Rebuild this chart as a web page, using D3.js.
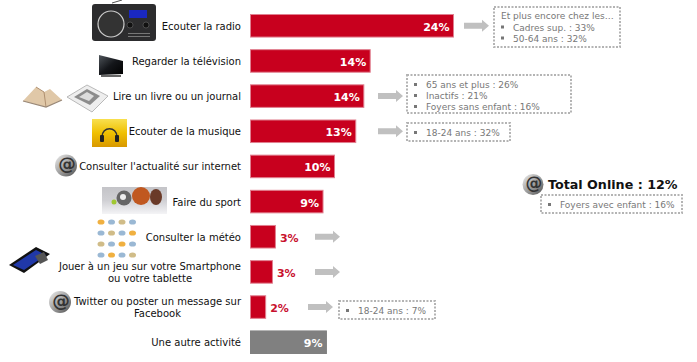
<!DOCTYPE html>
<html>
<head>
<meta charset="utf-8">
<script src="https://cdn.jsdelivr.net/npm/d3@7/dist/d3.min.js"></script>
<style>
html, body { margin: 0; padding: 0; background: #fff; }
text { font-family: "DejaVu Sans", sans-serif; }
</style>
</head>
<body>
<div id="chart"></div>
<script>
var categories = ["Ecouter la radio", "Regarder la télévision", "Lire un livre ou un journal", "Ecouter de la musique",
    "Consulter l'actualité sur internet", "Faire du sport", "Consulter la météo",
    "Jouer à un jeu sur votre Smartphone|ou votre tablette", "Twitter ou poster un message sur|Facebook", "Une autre activité"];
var barLengths = [24, 14.2, 13.45, 12.5, 10, 8.65, 3.05, 2.7, 1.9, 9.05];
var valueLabels = ["24%", "14%", "14%", "13%", "10%", "9%", "3%", "3%", "2%", "9%"];
var barColors = ["#c8001e", "#c8001e", "#c8001e", "#c8001e", "#c8001e", "#c8001e", "#c8001e", "#c8001e", "#c8001e", "#808080"];
var arrowRows = [0, 2, 3, 6, 7, 8];
var callouts = [
    {row: 0, head: "Et plus encore chez les…", items: ["Cadres sup. : 33%", "50-64 ans : 32%"]},
    {row: 2, items: ["65 ans et plus : 26%", "Inactifs : 21%", "Foyers sans enfant : 16%"]},
    {row: 3, items: ["18-24 ans : 32%"]},
    {row: 8, items: ["18-24 ans : 7%"]}
];
var totalLabel = "Total Online : 12%";
var totalItems = ["Foyers avec enfant : 16%"];

var width = 697, height = 362;
var barX = 250;
var svg = d3.select("#chart").append("svg")
    .attr("width", width).attr("height", height)
    .style("display", "block");
var defs = svg.append("defs");

var x = d3.scaleLinear().domain([0, 24]).range([barX, 454]);
var y = d3.scaleBand().domain(d3.range(categories.length)).range([14, 354]).paddingInner(0.33);
var rowMid = function (i) { return y(i) + y.bandwidth() / 2; };

function gradient(id, stops, vertical) {
    var g = defs.append("linearGradient").attr("id", id)
        .attr("x1", 0).attr("y1", 0).attr("x2", vertical ? 0 : 1).attr("y2", 1);
    stops.forEach(function (s, i) {
        g.append("stop").attr("offset", i / (stops.length - 1)).attr("stop-color", s);
    });
}
gradient("atGrad", ["#f0f0f0", "#a0a0a0", "#505050"]);
gradient("tvGrad", ["#50565c", "#14161a", "#000"]);
gradient("yellowGrad", ["#f8e050", "#f0c000", "#d89800"], true);
gradient("sportGrad", ["#c4c4c8", "#d0d0d4", "#f4f4f6"], true);

// rows
var rows = svg.append("g").selectAll("g").data(categories).enter().append("g");

rows.append("rect")
    .attr("x", barX + 0.5)
    .attr("y", function (d, i) { return y(i) + 0.5; })
    .attr("width", function (d, i) { return x(barLengths[i]) - barX - 1; })
    .attr("height", y.bandwidth() - 1)
    .attr("fill", function (d, i) { return barColors[i]; })
    .attr("stroke", function (d, i) { return i == 9 ? "#808080" : "#e08090"; })
    .attr("stroke-width", 1);

rows.append("text")
    .attr("x", function (d, i) { return barLengths[i] > 5 ? x(barLengths[i]) - 4.5 : x(barLengths[i]) + 4; })
    .attr("y", function (d, i) { return rowMid(i) + 5; })
    .attr("text-anchor", function (d, i) { return barLengths[i] > 5 ? "end" : "start"; })
    .attr("fill", function (d, i) { return barLengths[i] > 5 ? "#fff" : "#c8102e"; })
    .attr("font-size", 11)
    .attr("font-weight", "bold")
    .text(function (d, i) { return valueLabels[i]; });

// category labels, two line ones are centred under each other
rows.each(function (d, i) {
    var lines = d.split("|");
    var g = d3.select(this);
    var mid = rowMid(i) + (i == 6 ? 0.5 : 0);
    var t = g.selectAll("text.cat").data(lines).enter().append("text")
        .attr("class", "cat")
        .attr("font-size", 10)
        .attr("fill", "#111")
        .attr("y", function (l, j) { return mid + 4 + (j - (lines.length - 1) / 2) * 12; })
        .text(function (l) { return l; });
    var widest = d3.max(t.nodes(), function (n) { return n.getComputedTextLength(); });
    t.attr("x", 241 - widest / 2).attr("text-anchor", "middle");
});

// arrows
function arrow(x0, cy) {
    svg.append("path")
        .attr("d", d3.line()([[x0, cy - 3], [x0 + 18, cy - 3], [x0 + 18, cy - 6], [x0 + 25, cy], [x0 + 18, cy + 6], [x0 + 18, cy + 3], [x0, cy + 3]]) + "Z")
        .attr("fill", "#c0c0c0");
}
arrowRows.forEach(function (r) {
    var ax = r == 0 ? 464 : r == 8 ? 308 : r < 6 ? 378 : 315;
    arrow(ax, rowMid(r));
});

// callout boxes
function callout(bx, by, bw, bh, head, items) {
    var g = svg.append("g");
    g.append("rect").attr("x", bx).attr("y", by).attr("width", bw).attr("height", bh)
        .attr("fill", "#fff").attr("stroke", "#b4b4b4").attr("stroke-width", 2).attr("stroke-dasharray", "2,1.5");
    var ty = by + 13;
    if (head) {
        g.append("text").attr("x", bx + 7).attr("y", ty - 1).attr("font-size", 9).attr("fill", "#777").text(head);
        ty += 10.5;
    }
    items.forEach(function (s) {
        g.append("rect").attr("x", bx + 7).attr("y", ty - 5).attr("width", 3).attr("height", 3).attr("fill", "#777");
        g.append("text").attr("x", bx + 19).attr("y", ty).attr("font-size", 9).attr("fill", "#777").text(s);
        ty += 11;
    });
}
var boxPos = [[494, 7, 126, 40], [407, 75, 164, 38], [407, 123, 103, 18], [339, 301, 96, 18]];
callouts.forEach(function (c, i) {
    var b = boxPos[i];
    callout(b[0], b[1], b[2], b[3], c.head, c.items);
});
callout(541, 195, 141, 18, null, totalItems);

svg.append("text").attr("x", 548).attr("y", 189).attr("font-size", 12.7).attr("font-weight", "bold")
    .attr("fill", "#111").text(totalLabel);

// icons
function atIcon(cx, cy, r) {
    var g = svg.append("g");
    g.append("circle").attr("cx", cx).attr("cy", cy).attr("r", r).attr("fill", "url(#atGrad)");
    g.append("text").attr("x", cx + 1).attr("y", cy + r * 0.45).attr("text-anchor", "middle")
        .attr("font-size", r * 1.6).attr("font-weight", "bold").attr("fill", "#333").text("@");
}
atIcon(66, 165.5, 11);
atIcon(60, 302, 11);
atIcon(533, 184.5, 10.5);

function icon(tx, ty, draw) {
    draw(svg.append("g").attr("transform", "translate(" + tx + "," + ty + ")"));
}
function box(g, bx, by, bw, bh, fill, r) {
    return g.append("rect").attr("x", bx).attr("y", by).attr("width", bw).attr("height", bh).attr("fill", fill).attr("rx", r || 0);
}

// radio
icon(92, 0, function (g) {
    g.append("path").attr("d", "M20 3L30 0").attr("stroke", "#555").attr("stroke-width", 1);
    box(g, 0, 4, 64, 37, "#2c2c2e", 3);
    g.append("circle").attr("cx", 19).attr("cy", 24).attr("r", 13).attr("fill", "#333").attr("stroke", "#ccc").attr("stroke-width", 1.2);
    box(g, 37, 10, 18, 8, "#1a28c0");
    g.append("circle").attr("cx", 38).attr("cy", 25).attr("r", 3).attr("fill", "#111").attr("stroke", "#777").attr("stroke-width", 0.5);
    g.append("circle").attr("cx", 54).attr("cy", 25).attr("r", 3).attr("fill", "#111").attr("stroke", "#777").attr("stroke-width", 0.5);
    box(g, 36, 33, 22, 1, "#777");
    box(g, 36, 36, 22, 1, "#777");
});

// tv
icon(99, 55, function (g) {
    g.append("path").attr("d", "M0 0L24 6V19L0 20Z").attr("fill", "url(#tvGrad)");
    box(g, 2, 20, 20, 2, "#666");
});

// book
icon(22, 86, function (g) {
    g.append("path").attr("d", "M1 15L14 1L22 6L28 3L40 14L24 21Z").attr("fill", "#e0c8a8");
    g.append("path").attr("d", "M14 1L22 6L24 21").attr("fill", "none").attr("stroke", "#b09070").attr("stroke-width", 1);
    g.append("path").attr("d", "M1 15L24 21L40 14").attr("fill", "none").attr("stroke", "#998877").attr("stroke-width", 1.2);
});

// newspaper
icon(67, 85, function (g) {
    g.append("path").attr("d", "M0 12L20 0L41 11L25 27Z").attr("fill", "#eee").attr("stroke", "#aaa").attr("stroke-width", 0.8);
    g.append("path").attr("d", "M7 12L20 4L33 11L23 20Z").attr("fill", "#8c8c8c");
    g.append("path").attr("d", "M12 12L20 7L27 11L22 16Z").attr("fill", "#ddd");
});

// headphones
icon(92, 119, function (g) {
    box(g, 0, 0, 35, 28, "url(#yellowGrad)");
    g.append("path").attr("d", "M10 18C10 7 25 7 25 18").attr("fill", "none").attr("stroke", "#333").attr("stroke-width", 1.5);
    box(g, 8, 16, 4, 7, "#222", 1);
    box(g, 23, 16, 4, 7, "#222", 1);
});

// sport balls
icon(102, 187, function (g) {
    box(g, 0, 0, 65, 27, "url(#sportGrad)");
    g.append("circle").attr("cx", 12).attr("cy", 15).attr("r", 2.5).attr("fill", "#a0c830");
    g.append("circle").attr("cx", 22).attr("cy", 11).attr("r", 7.5).attr("fill", "#666");
    g.append("circle").attr("cx", 21).attr("cy", 10).attr("r", 3).attr("fill", "#eee");
    g.append("circle").attr("cx", 39).attr("cy", 9).attr("r", 9).attr("fill", "#c05820");
    g.append("ellipse").attr("cx", 54).attr("cy", 10).attr("rx", 6).attr("ry", 8).attr("fill", "#6a3a28");
});

// weather grid
icon(97, 217, function (g) {
    var colors = ["#f0b040", "#9ab8d4", "#d0bc88", "#9ab8d4"];
    d3.range(4).forEach(function (r) {
        d3.range(4).forEach(function (c) {
            g.append("ellipse").attr("cx", c * 10.5 + 4).attr("cy", r * 11 + 5).attr("rx", 3.5).attr("ry", 2.6)
                .attr("fill", colors[(r + c) % 4]);
        });
    });
});

// tablet
icon(9, 247, function (g) {
    g.append("path").attr("d", "M0 18L27 0L41 7L15 26Z").attr("fill", "#111");
    g.append("path").attr("d", "M4 18L27 3L37 8L15 23Z").attr("fill", "#2038a8");
    g.append("path").attr("d", "M26 9L35 5L39 13L31 17Z").attr("fill", "#555");
});
</script>
</body>
</html>
